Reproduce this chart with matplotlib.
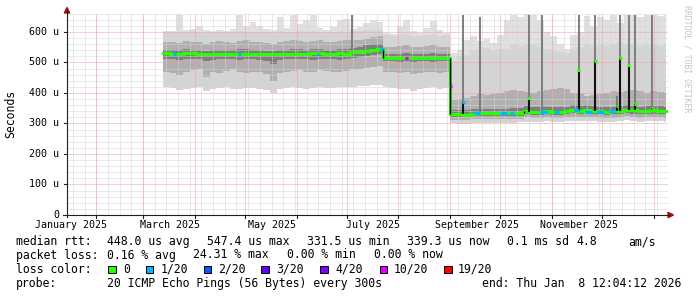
"""SmokePing style yearly latency graph (median rtt with smoke bands)."""
import matplotlib

matplotlib.use("Agg")
import matplotlib.dates as mdates
import matplotlib.pyplot as plt
import numpy as np
import pandas as pd
from matplotlib.lines import Line2D
from matplotlib.patches import Polygon, Rectangle

W, H = 697, 297

# graph window and data span
window_start = "2025-01-14 12:00"
window_end = "2026-01-09 12:00"
data_start = "2025-03-13"
data_end = "2026-01-08 12:04"
step_days = 4

# smoke bands, one value per 4-day step (microseconds)
# periods: Mar-Jun | early Jul rise | Jul-Aug | Sep-Jan
top_max = (
    [602, 604, 655, 606, 608, 618, 605, 603, 607, 604, 610, 656, 620, 634,
     618, 608, 606, 650, 612, 657, 625, 640, 657, 612, 605, 615, 640, 642]
    + [608, 615, 628, 640, 632]
    + [598, 592, 620, 640, 604, 596, 612, 636, 605, 598]
    + [530, 540, 575, 585, 570, 578, 565, 590, 640, 655, 648, 658, 655, 640,
       600, 585, 560, 545, 590, 600, 652, 618, 650, 640, 655, 630, 656, 655,
       648, 656, 655, 652, 656]
)
top_hi = (
    [600, 601, 599, 600, 602, 600, 598, 600, 601, 599, 600, 602, 600, 599,
     601, 600, 598, 602, 600, 601, 603, 600, 602, 600, 598, 600, 602, 601]
    + [602, 603, 605, 606, 606]
    + [590, 588, 590, 592, 588, 586, 590, 592, 588, 590]
    + [505, 520, 525, 540, 545, 548, 540, 545, 545, 560, 555, 560, 560, 550,
       545, 540, 535, 530, 545, 550, 560, 555, 560, 555, 560, 565, 560, 560,
       555, 560, 560, 555, 560]
)
upper_mid = (
    [568, 566, 565, 570, 568, 566, 562, 567, 570, 568, 565, 570, 572, 568,
     566, 565, 560, 568, 570, 572, 570, 568, 570, 572, 568, 566, 570, 572]
    + [572, 575, 578, 582, 585]
    + [552, 550, 555, 556, 552, 550, 553, 556, 552, 550]
    + [378, 380, 382, 390, 395, 392, 398, 400, 405, 410, 408, 402, 400, 405,
       410, 412, 415, 412, 400, 395, 390, 392, 395, 400, 405, 402, 408, 410,
       405, 400, 405, 402, 400]
)
upper_in = (
    [542, 541, 540, 543, 542, 541, 538, 540, 542, 541, 540, 543, 544, 541,
     540, 539, 536, 541, 542, 543, 544, 542, 543, 544, 542, 541, 543, 544]
    + [548, 552, 556, 560, 562]
    + [528, 527, 529, 530, 528, 527, 529, 530, 528, 527]
    + [345, 344, 343, 346, 348, 347, 349, 349, 348, 350, 351, 356, 353, 354,
       355, 354, 354, 355, 359, 357, 359, 356, 355, 354, 355, 356, 360, 358,
       355, 356, 358, 356, 355]
)
median = (
    [530, 529, 529, 530, 530, 529, 529, 528, 528, 527, 528, 529, 529, 528,
     528, 527, 527, 528, 528, 528, 529, 529, 530, 530, 529, 529, 530, 529]
    + [533, 535, 537, 541, 543]
    + [514, 515, 515, 514, 515, 515, 516, 516, 515, 514]
    + [331, 330, 329, 332, 334, 333, 334, 334, 333, 334, 335, 341, 338, 339,
       340, 339, 339, 340, 344, 342, 344, 341, 340, 339, 340, 341, 345, 343,
       340, 341, 343, 341, 340]
)
lower_in = (
    [512, 510, 508, 510, 512, 510, 505, 508, 510, 512, 510, 508, 510, 512,
     508, 505, 495, 508, 510, 510, 512, 510, 508, 510, 512, 510, 508, 510]
    + [515, 518, 520, 524, 526]
    + [505, 504, 503, 505, 502, 504, 505, 503, 504, 505]
    + [322, 321, 320, 323, 325, 324, 325, 325, 324, 325, 326, 330, 328, 329,
       330, 329, 329, 330, 333, 332, 333, 331, 330, 329, 330, 331, 334, 332,
       330, 331, 332, 331, 330]
)
lower_mid = (
    [470, 465, 460, 468, 475, 480, 452, 470, 465, 472, 478, 470, 465, 468,
     470, 462, 440, 465, 470, 472, 475, 468, 470, 475, 472, 470, 468, 472]
    + [478, 480, 482, 485, 488]
    + [470, 468, 465, 470, 462, 466, 470, 468, 465, 470]
    + [312, 311, 310, 313, 315, 314, 315, 315, 314, 315, 316, 320, 318, 319,
       320, 319, 319, 320, 322, 321, 322, 320, 319, 318, 319, 320, 323, 321,
       319, 320, 321, 320, 319]
)
bottom_min = (
    [418, 415, 410, 412, 415, 420, 405, 412, 416, 418, 414, 412, 416, 415,
     412, 410, 400, 414, 416, 418, 415, 414, 416, 418, 415, 416, 418, 420]
    + [420, 422, 424, 425, 426]
    + [418, 416, 412, 414, 405, 412, 416, 418, 414, 416]
    + [300, 299, 298, 300, 302, 301, 302, 303, 302, 303, 304, 306, 305, 306,
       307, 306, 306, 307, 309, 308, 309, 307, 306, 305, 306, 307, 310, 308,
       306, 307, 308, 307, 306]
)

# short bursts where the whole set of pings went up
spike_dates = ["2025-07-04", "2025-09-09", "2025-09-19", "2025-10-18",
               "2025-10-26", "2025-11-17", "2025-11-27", "2025-12-10",
               "2025-12-12", "2025-12-17", "2025-12-21", "2025-12-31"]
spike_base = [533, 330, 334, 339, 340, 342, 340, 340, 341, 345, 343, 343]
spike_peak = [533, 370, 334, 383, 340, 475, 505, 357, 515, 493, 364, 351]
spike_top = [657, 655, 650, 655, 655, 655, 655, 390, 655, 655, 655, 655]
spike_loss = [0, 1, 0, 0, 0, 0, 0, 0, 0, 0, 0, 0]

# median stretches drawn with a non-zero loss colour
loss_start = ["2025-03-19", "2025-04-27", "2025-06-13", "2025-07-21",
              "2025-08-05", "2025-09-01", "2025-09-15", "2025-10-01",
              "2025-10-07", "2025-10-25", "2025-11-02", "2025-11-14",
              "2025-11-21", "2025-11-28", "2025-12-05"]
loss_end = ["2025-03-20 12:00", "2025-04-28 12:00", "2025-06-14 12:00",
            "2025-07-22 12:00", "2025-08-06 12:00", "2025-09-02 00:00",
            "2025-09-19 00:00", "2025-10-05 00:00", "2025-10-09 00:00",
            "2025-10-29 00:00", "2025-11-05 00:00", "2025-11-17 00:00",
            "2025-11-25 00:00", "2025-12-02 00:00", "2025-12-09 00:00"]
loss_value = [529, 529, 529, 543, 515, 423, 333, 334, 334, 339, 339, 344,
              339, 339, 340]
loss_bucket = [1, 1, 1, 1, 10, 10, 1, 1, 1, 1, 1, 1, 1, 1, 1]

loss_labels = ["0", "1/20", "2/20", "3/20", "4/20", "10/20", "19/20"]
loss_keys = [0, 1, 2, 3, 4, 10, 19]
loss_colors = ["#26ff00", "#00b8ff", "#0059ff", "#5e00ff", "#7e00ff",
               "#dd00ff", "#ff0000"]

month_labels = ["January 2025", "March 2025", "May 2025", "July 2025",
                "September 2025", "November 2025"]
y_ticks = [0, 100, 200, 300, 400, 500, 600]

rtt_legend = ["median rtt:", "448.0 us avg", "547.4 us max", "331.5 us min",
              "339.3 us now", "0.1 ms sd", "4.8", "am/s"]
loss_legend = ["packet loss:", "0.16 % avg", "24.31 % max", "0.00 % min",
               "0.00 % now"]
probe_text = "20 ICMP Echo Pings (56 Bytes) every 300s"
end_text = "end: Thu Jan  8 12:04:12 2026"

MONO = "DejaVu Sans Mono"
GRID_MINOR = "#d4d4d4"
GRID_MAJOR = "#eea0a0"
AXIS = "#202020"
ARROW = "#a01010"


def dnum(values):
    return mdates.date2num(pd.to_datetime(values, format="mixed"))


def fxy(px, py):
    return px / W, 1 - py / H


def stepped(v):
    v = np.asarray(v, dtype=float)
    return np.append(v, v[-1])


fig = plt.figure(figsize=(W / 100, H / 100), dpi=100)
ax = fig.add_axes([67 / W, 82 / H, 601 / W, 202 / H])
ax.set_axis_off()
x0, x1 = dnum([window_start, window_end])
ax.set_xlim(x0, x1)
ax.set_ylim(0, 662)

steps = pd.date_range(data_start, periods=len(median), freq=f"{step_days}D")
edges = np.append(mdates.date2num(steps), dnum([data_end])[0])

# smoke, outer bands first
bands = [
    (top_hi, top_max, "#e0e0e0"),
    (upper_mid, top_hi, "#d4d4d4"),
    (upper_in, upper_mid, "#b0b0b0"),
    (median, upper_in, "#7e7e7e"),
    (lower_in, median, "#7e7e7e"),
    (lower_mid, lower_in, "#b0b0b0"),
    (bottom_min, lower_mid, "#d4d4d4"),
]
for lo, hi, col in bands:
    ax.fill_between(edges, stepped(lo), stepped(hi), step="post",
                    color=col, linewidth=0, zorder=1)

# grid on top of the smoke, dotted one-pixel lines snapped to the pixel grid
months = pd.date_range("2025-02-01", "2026-01-01", freq="MS")
weeks = pd.date_range("2025-01-18", "2026-01-09", freq="7D")
dots = (0, (1, 1))
minor_y = [v for v in range(20, 662, 20) if v % 100]
grid_kw = dict(lw=0.72, linestyles=[dots], zorder=3, snap=True)
ax.hlines(minor_y, x0, x1, colors=GRID_MINOR, **grid_kw)
ax.vlines(mdates.date2num(weeks), 0, 662, colors=GRID_MINOR, **grid_kw)
ax.hlines(y_ticks[1:], x0, x1, colors=GRID_MAJOR, **grid_kw)
ax.vlines(mdates.date2num(months), 0, 662, colors=GRID_MAJOR, **grid_kw)

sx = dnum(spike_dates)
ax.vlines(sx, spike_peak, spike_top, color="#7d7d7d", lw=1.4, zorder=3.5)

# median: green step line, black where it jumps between levels
med = stepped(median)
ax.step(edges, med, where="post", color=loss_colors[0], lw=2.2,
        solid_joinstyle="miter", zorder=5)
jumps = np.flatnonzero(np.abs(np.diff(median)) >= 5) + 1
ax.vlines(edges[jumps], med[jumps - 1], med[jumps], color="#000000", lw=1.0,
          zorder=5.5)
ax.vlines(sx, spike_base, spike_peak, color="#111111", lw=1.5, zorder=5)
for d, peak, base, lb in zip(sx, spike_peak, spike_base, spike_loss):
    if peak > base:
        ax.hlines(peak, d - 0.8, d + 0.8, colors=loss_colors[loss_keys.index(lb)],
                  lw=2.2, capstyle="butt", zorder=6)
ax.hlines(loss_value, dnum(loss_start), dnum(loss_end),
          colors=[loss_colors[loss_keys.index(b)] for b in loss_bucket],
          lw=2.4, capstyle="butt", zorder=6)

# axis lines, ticks and arrows
fig.add_artist(Line2D(*zip(fxy(67, 217), fxy(67, 11)), color=AXIS, lw=0.8))
fig.add_artist(Line2D(*zip(fxy(63, 215), fxy(669, 215)), color=AXIS, lw=0.8))
fig.add_artist(Polygon([fxy(64.3, 13), fxy(69.7, 13), fxy(67, 7.5)],
                       closed=True, color=ARROW, transform=fig.transFigure))
fig.add_artist(Polygon([fxy(668, 212.3), fxy(668, 217.7), fxy(673.5, 215)],
                       closed=True, color=ARROW, transform=fig.transFigure))

px_per_day = 601 / (x1 - x0)
for m in mdates.date2num(months):
    px = 67 + (m - x0) * px_per_day
    fig.add_artist(Line2D(*zip(fxy(px, 215), fxy(px, 217.5)), color=AXIS, lw=0.8))
for v in y_ticks[1:]:
    py = 215 - v * 202 / 662
    fig.add_artist(Line2D(*zip(fxy(64, py), fxy(67, py)), color=AXIS, lw=0.8))
    ax.text(-8 / 601, v, f"{v} u", transform=ax.get_yaxis_transform(),
            ha="right", va="center", family=MONO, fontsize=7.2)
ax.text(-8 / 601, 0, "0", transform=ax.get_yaxis_transform(),
        ha="right", va="center", family=MONO, fontsize=7.2)

label_months = pd.date_range("2025-01-01", periods=len(month_labels), freq="2MS")
for d, lab in zip(mdates.date2num(label_months + pd.Timedelta(days=16)), month_labels):
    ax.text(d, -10 / 202, lab, transform=ax.get_xaxis_transform(),
            ha="center", va="center", family=MONO, fontsize=7.2, clip_on=False)

fig.text(*fxy(10.7, 114), "Seconds", rotation=90, ha="center", va="center",
         family=MONO, fontsize=8.3)
fig.text(*fxy(686.5, 59), "RRDTOOL / TOBI OETIKER", rotation=270,
         ha="center", va="center", family=MONO, fontsize=5.9, color="#c4c4c4")

# legend block
LEG = 8.3
for text, px in zip(rtt_legend, [16, 107.3, 207.3, 306.7, 407.3, 507.3, 576.7, 628.3]):
    fig.text(*fxy(px, 241.7), text, ha="left", va="center", family=MONO, fontsize=LEG)
for text, px in zip(loss_legend, [16, 107.3, 193, 287, 374.4]):
    fig.text(*fxy(px, 255), text, ha="left", va="center", family=MONO, fontsize=LEG)
fig.text(*fxy(16, 269.3), "loss color:", ha="left", va="center", family=MONO, fontsize=LEG)
square_x = [108.3, 145.7, 203.5, 261.2, 320.3, 379.5, 444]
label_x = [123.3, 161, 218.3, 276.3, 335, 393.2, 458]
for sq, lx, col, lab in zip(square_x, label_x, loss_colors, loss_labels):
    fig.add_artist(Rectangle(fxy(sq, 273.1), 7.6 / W, 7.6 / H, facecolor=col,
                             edgecolor="#000000", lw=0.7, transform=fig.transFigure))
    fig.text(*fxy(lx, 269.3), lab, ha="left", va="center", family=MONO, fontsize=LEG)
fig.text(*fxy(16, 283.3), "probe:", ha="left", va="center", family=MONO, fontsize=LEG)
fig.text(*fxy(107.3, 283.3), probe_text, ha="left", va="center", family=MONO, fontsize=LEG)
fig.text(*fxy(681.5, 283.3), end_text, ha="right", va="center", family=MONO, fontsize=LEG)

fig.savefig("out.png", dpi=100)
